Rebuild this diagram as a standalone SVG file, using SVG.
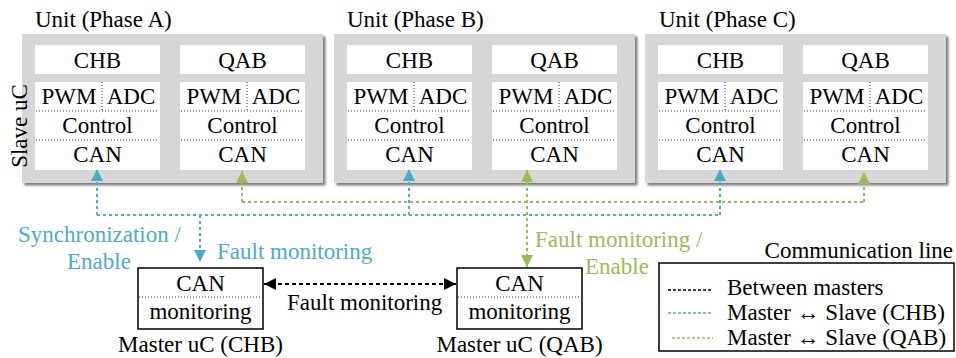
<svg xmlns="http://www.w3.org/2000/svg" width="956" height="358" viewBox="0 0 956 358" font-family="'Liberation Serif', 'Times New Roman', serif" font-size="23">
<defs>
<style>
.t{font-family:'Liberation Serif','Times New Roman',serif;font-size:23px;fill:#000}
.c{text-anchor:middle}
.unit{fill:#d6d6d6;filter:url(#sh)}
.wb{fill:#fff}
.dot{stroke:#333;stroke-width:1;stroke-dasharray:1 2;fill:none}
.bl{stroke:#4bacc6;stroke-width:2;stroke-dasharray:3 3;fill:none}
.gr{stroke:#9bbb59;stroke-width:2;stroke-dasharray:3 3;fill:none}
.bk{stroke:#000;stroke-width:2;stroke-dasharray:4 3;fill:none}
.tb{fill:#4bacc6}
.tg{fill:#9bbb59}
.mb{fill:#fff;stroke:#000;stroke-width:1.5}
</style>
<filter id="sh" x="-5%" y="-5%" width="115%" height="115%">
<feDropShadow dx="2.5" dy="2.5" stdDeviation="1.2" flood-color="#7f7f7f"/>
</filter>
<marker id="ab" markerUnits="userSpaceOnUse" markerWidth="12" markerHeight="12" viewBox="0 0 10 10" refX="10" refY="5" orient="auto-start-reverse"><path d="M0,0 L10,5 L0,10 Z" fill="#4bacc6"/></marker>
<marker id="ag" markerUnits="userSpaceOnUse" markerWidth="12" markerHeight="12" viewBox="0 0 10 10" refX="10" refY="5" orient="auto-start-reverse"><path d="M0,0 L10,5 L0,10 Z" fill="#9bbb59"/></marker>
<marker id="ak" markerUnits="userSpaceOnUse" markerWidth="12" markerHeight="12" viewBox="0 0 10 10" refX="10" refY="5" orient="auto-start-reverse"><path d="M0,0 L10,5 L0,10 Z" fill="#000"/></marker>
<g id="uc">
<rect class="wb" x="0" y="45" width="125" height="29"/>
<rect class="wb" x="0" y="82" width="125" height="88"/>
<line class="dot" x1="1" y1="111" x2="124" y2="111"/>
<line class="dot" x1="1" y1="140" x2="124" y2="140"/>
<line class="dot" x1="67" y1="82" x2="67" y2="111"/>
<text class="t c" x="34" y="104">PWM</text>
<text class="t c" x="96" y="104">ADC</text>
<text class="t c" x="62.5" y="133">Control</text>
<text class="t c" x="62.5" y="162">CAN</text>
</g>
</defs>
<rect width="956" height="358" fill="#fff"/>

<g id="unitA">
<text class="t" x="35" y="27">Unit (Phase A)</text>
<rect class="unit" x="22" y="34" width="301" height="149"/>
<use href="#uc" x="35"/><text class="t c" x="97.5" y="68">CHB</text>
<use href="#uc" x="180"/><text class="t c" x="242.5" y="68">QAB</text>
</g>
<g id="unitB">
<text class="t" x="347" y="27">Unit (Phase B)</text>
<rect class="unit" x="334" y="34" width="301" height="149"/>
<use href="#uc" x="347"/><text class="t c" x="409.5" y="68">CHB</text>
<use href="#uc" x="492"/><text class="t c" x="554.5" y="68">QAB</text>
</g>
<g id="unitC">
<text class="t" x="659" y="27">Unit (Phase C)</text>
<rect class="unit" x="645" y="34" width="301" height="149"/>
<use href="#uc" x="658"/><text class="t c" x="720.5" y="68">CHB</text>
<use href="#uc" x="803"/><text class="t c" x="865.5" y="68">QAB</text>
</g>
<text class="t c" transform="translate(27,126) rotate(-90)">Slave uC</text>

<g id="masterCHB">
<rect class="mb" x="138" y="268" width="125" height="61"/>
<line class="dot" x1="139" y1="297" x2="262" y2="297"/>
<text class="t c" x="200.5" y="291">CAN</text>
<text class="t c" x="200.5" y="319">monitoring</text>
<text class="t c" x="200.5" y="352">Master uC (CHB)</text>
</g>
<g id="masterQAB">
<rect class="mb" x="457" y="268" width="125" height="61"/>
<line class="dot" x1="458" y1="297" x2="581" y2="297"/>
<text class="t c" x="519.5" y="291">CAN</text>
<text class="t c" x="519.5" y="319">monitoring</text>
<text class="t c" x="519.5" y="352">Master uC (QAB)</text>
</g>

<g id="connectors">
<path class="gr" d="M242,202 H864"/>
<path class="gr" d="M242,202 V171" marker-end="url(#ag)"/>
<path class="gr" d="M864,202 V172" marker-end="url(#ag)"/>
<path class="gr" d="M527,170 V267" marker-start="url(#ag)" marker-end="url(#ag)"/>
<path class="bl" d="M97,215 H720"/>
<path class="bl" d="M97,215 V169" marker-end="url(#ab)"/>
<path class="bl" d="M409,215 V169" marker-end="url(#ab)"/>
<path class="bl" d="M720,215 V169" marker-end="url(#ab)"/>
<path class="bl" d="M200,215 V262" marker-end="url(#ab)"/>
<path class="bk" d="M264,284 H456" marker-start="url(#ak)" marker-end="url(#ak)"/>
</g>

<text class="t tb" x="18" y="242">Synchronization /</text>
<text class="t tb c" x="99" y="269">Enable</text>
<text class="t tb" x="217" y="259">Fault monitoring</text>
<text class="t" x="287" y="310">Fault monitoring</text>
<text class="t tg" x="535" y="247">Fault monitoring /</text>
<text class="t tg c" x="617" y="274">Enable</text>

<g id="legend">
<text class="t" x="953" y="258" text-anchor="end">Communication line</text>
<rect x="659" y="263" width="295" height="88" fill="none" stroke="#000" stroke-width="1.5"/>
<line x1="668" y1="290" x2="713" y2="290" stroke="#000" stroke-width="1.5" stroke-dasharray="3 2"/>
<line x1="668" y1="313" x2="713" y2="313" stroke="#4bacc6" stroke-width="1.5" stroke-dasharray="3 2"/>
<line x1="672" y1="338" x2="713" y2="338" stroke="#9bbb59" stroke-width="1.5" stroke-dasharray="3 2"/>
<text class="t" x="727" y="295">Between masters</text>
<text class="t" x="727" y="320">Master ↔  Slave (CHB)</text>
<text class="t" x="727" y="345">Master ↔  Slave (QAB)</text>
</g>
</svg>
